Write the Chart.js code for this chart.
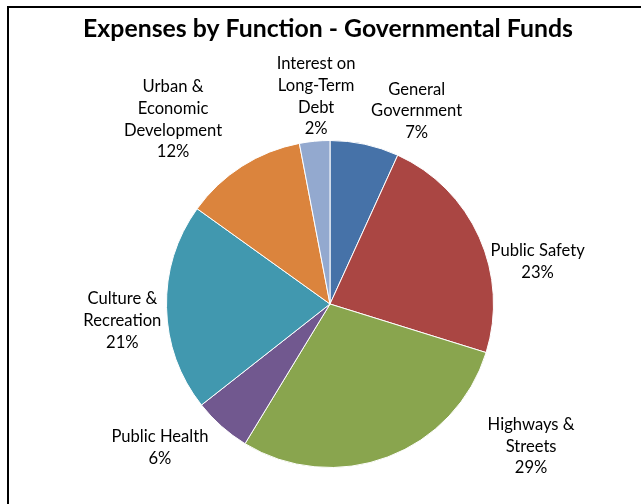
<!DOCTYPE html>
<html>
<head>
<meta charset="utf-8">
<script src="https://cdn.jsdelivr.net/npm/chart.js@4.4.1/dist/chart.umd.min.js"></script>
<style>
  html, body { margin: 0; padding: 0; background: #fff; }
  #wrap { position: relative; width: 641px; height: 504px; }
</style>
</head>
<body>
<div id="wrap"><canvas id="expensesChart"></canvas></div>
<script>
const categories = [
    ['General', 'Government'],
    ['Public Safety'],
    ['Highways &', 'Streets'],
    ['Public Health'],
    ['Culture &', 'Recreation'],
    ['Urban &', 'Economic', 'Development'],
    ['Interest on', 'Long-Term', 'Debt']
];
const shares = [6.8, 23.0, 28.9, 5.7, 20.5, 12.1, 3.0];
const percentLabels = ['7%', '23%', '29%', '6%', '21%', '12%', '2%'];
const sliceColors = ['#4672a8', '#aa4643', '#89a54e', '#71588f', '#4198af', '#db843d', '#93a9cf'];

// where each label block sits, relative to the pie centre, in units of radius
const labelSpots = [
    [0.53, -1.18], [1.27, -0.26], [1.23, 0.87], [-1.04, 0.88],
    [-1.27, 0.10], [-0.96, -1.13], [-0.085, -1.27]
];

const FONT = "Lato, 'Open Sans', sans-serif";

const framePlugin = {
    id: 'frameAndLabels',
    beforeDraw(chart) {
        const ctx = chart.ctx;
        ctx.save();
        ctx.fillStyle = '#fff';
        ctx.fillRect(0, 0, chart.width, chart.height);
        ctx.strokeStyle = '#000';
        ctx.lineWidth = 2;
        ctx.strokeRect(8, 7, chart.width + 20, chart.height + 20);
        ctx.fillStyle = '#000';
        ctx.font = 'bold 24.8px ' + FONT;
        ctx.textAlign = 'center';
        ctx.textBaseline = 'middle';
        ctx.fillText('Expenses by Function - Governmental Funds', 328, 29);
        ctx.restore();
    },
    afterDatasetsDraw(chart) {
        const ctx = chart.ctx;
        const arc = chart.getDatasetMeta(0).data[0];
        const cx = arc.x, cy = arc.y, r = arc.outerRadius;
        const lineH = 21.8;
        ctx.save();
        ctx.fillStyle = '#000';
        ctx.font = '16.6px ' + FONT;
        ctx.textAlign = 'center';
        ctx.textBaseline = 'middle';
        categories.forEach((lines, i) => {
            const all = lines.concat(percentLabels[i]);
            const x = cx + labelSpots[i][0] * r;
            const y0 = cy + labelSpots[i][1] * r - (all.length - 1) * lineH / 2;
            all.forEach((t, k) => ctx.fillText(t, x, y0 + k * lineH));
        });
        ctx.restore();
    }
};

new Chart(document.getElementById('expensesChart'), {
    type: 'pie',
    data: {
        labels: categories.map(c => c.join(' ')),
        datasets: [{
            data: shares,
            backgroundColor: sliceColors,
            borderColor: '#fff',
            borderWidth: 1
        }]
    },
    options: {
        responsive: true,
        maintainAspectRatio: false,
        animation: false,
        layout: { padding: { top: 140, bottom: 36, left: 150, right: 131 } },
        plugins: {
            legend: { display: false },
            tooltip: { enabled: false }
        }
    },
    plugins: [framePlugin]
});
</script>
</body>
</html>
